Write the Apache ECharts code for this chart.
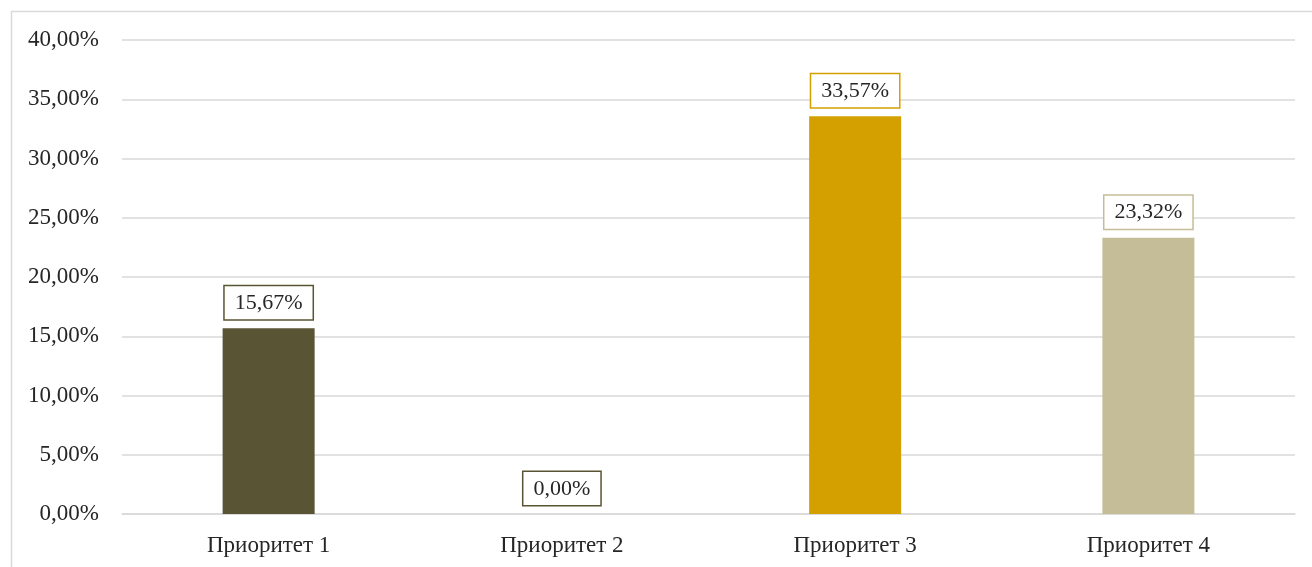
<!DOCTYPE html>
<html><head><meta charset="utf-8">
<script src="https://cdn.jsdelivr.net/npm/echarts@6/dist/echarts.min.js"></script>
<style>html,body{margin:0;padding:0;background:#fff;}#c{width:1312px;height:567px;}</style>
</head><body><div id="c"></div>
<script>
const categories = ['Приоритет 1', 'Приоритет 2', 'Приоритет 3', 'Приоритет 4'];
const values = [15.67, 0.00, 33.57, 23.32];
const colors = ['#595433', '#595433', '#D4A000', '#C4BD97'];
const yTicks = { min: 0, max: 40, interval: 5 };

const fmt = v => v.toFixed(2).replace('.', ',') + '%';
const chart = echarts.init(document.getElementById('c'));
chart.setOption({
  animation: false,
  backgroundColor: '#fff',
  graphic: [{ type: 'rect', left: 9, top: 9, shape: { width: 1340, height: 600 }, style: { fill: 'none', stroke: '#d9d9d9', lineWidth: 1.5 }, silent: true }],
  grid: { left: 122, right: 17, top: 40, bottom: 53 },
  xAxis: {
    type: 'category', data: categories,
    axisLine: { lineStyle: { color: '#d9d9d9', width: 1.5 } },
    axisTick: { show: false },
    axisLabel: { color: '#262626', fontFamily: 'Liberation Serif', fontSize: 23, margin: 20 }
  },
  yAxis: {
    type: 'value', min: yTicks.min, max: yTicks.max, interval: yTicks.interval,
    axisLine: { show: false }, axisTick: { show: false },
    splitLine: { lineStyle: { color: '#d9d9d9', width: 1.5 } },
    axisLabel: { color: '#262626', fontFamily: 'Liberation Serif', fontSize: 23, margin: 23, formatter: v => fmt(v) }
  },
  series: [{
    type: 'bar', barWidth: 92,
    data: values.map((v, i) => ({ value: v, itemStyle: { color: colors[i] },
      label: { borderColor: colors[i] } })),
    label: {
      show: true, position: 'top', distance: 9,
      formatter: p => fmt(p.value),
      color: '#262626', fontFamily: 'Liberation Serif', fontSize: 22,
      backgroundColor: '#fff', borderWidth: 1.5, padding: [6, 10, 5, 10]
    }
  }]
});
</script></body></html>
